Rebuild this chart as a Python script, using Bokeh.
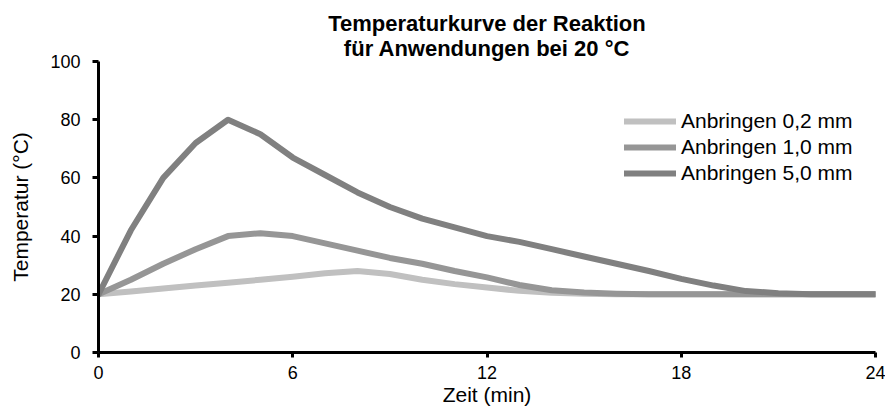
from bokeh.plotting import figure
from bokeh.models import Range1d, FixedTicker, Legend, LegendItem, Title
from bokeh.embed import file_html
from bokeh.resources import INLINE

# ---- data ----
time_min = list(range(25))
t_02 = [20, 21, 22, 23, 24, 25, 26, 27.2, 28, 27, 25, 23.5, 22.3, 21.2, 20.5, 20.2,
        20, 20, 20, 20, 20, 20, 20, 20, 20]
t_10 = [20, 25, 30.5, 35.5, 40, 41, 40, 37.5, 35, 32.5, 30.5, 28, 25.8, 23.2, 21.4,
        20.6, 20.2, 20, 20, 20, 20, 20, 20, 20, 20]
t_50 = [20, 42, 60, 72, 80, 75, 67, 61, 55, 50, 46, 43, 40, 38, 35.5, 33, 30.5,
        28, 25.3, 23, 21.1, 20.4, 20, 20, 20]
series_labels = ["Anbringen 0,2 mm", "Anbringen 1,0 mm", "Anbringen 5,0 mm"]
series_colors = ["#c0c0c0", "#969696", "#808080"]
x_ticks = [0, 6, 12, 18, 24]
y_ticks = [0, 20, 40, 60, 80, 100]
title_lines = ["Temperaturkurve der Reaktion", "für Anwendungen bei 20 °C"]

FONT = "Liberation Sans"

p = figure(width=885, height=410, output_backend="svg", toolbar_location=None,
           x_range=Range1d(0, 24), y_range=Range1d(0, 100),
           min_border_left=98, min_border_right=10, min_border_top=61,
           min_border_bottom=58, title=None)
p.outline_line_color = None
p.xgrid.visible = False
p.ygrid.visible = False
p.background_fill_color = "white"
p.border_fill_color = "white"

renderers = []
for ys, col in zip([t_02, t_10, t_50], series_colors):
    r = p.line(time_min, ys, line_color=col, line_width=6,
               line_cap="round", line_join="round")
    renderers.append(r)

for ax in (p.xaxis[0], p.yaxis[0]):
    ax.axis_line_width = 3
    ax.axis_line_color = "black"
    ax.major_tick_line_width = 3
    ax.major_tick_line_color = "black"
    ax.major_tick_in = 0
    ax.major_tick_out = 6
    ax.minor_tick_line_color = None
    ax.major_label_text_font = FONT
    ax.major_label_text_font_size = "18px"
    ax.major_label_text_color = "black"
    ax.axis_label_text_font = FONT
    ax.axis_label_text_font_size = "21px"
    ax.axis_label_text_font_style = "normal"
    ax.axis_label_text_color = "black"

p.xaxis.ticker = FixedTicker(ticks=x_ticks)
p.yaxis.ticker = FixedTicker(ticks=y_ticks)
p.xaxis.axis_label = "Zeit (min)"
p.yaxis.axis_label = "Temperatur (°C)"
p.xaxis.major_tick_out = 5
p.xaxis.major_label_standoff = 8
p.xaxis.axis_label_standoff = 1
p.yaxis.major_label_standoff = 12
p.yaxis.axis_label_standoff = 15

legend = Legend(items=[LegendItem(label=lab, renderers=[r])
                       for lab, r in zip(series_labels, renderers)],
                location=(526, 167), padding=0, spacing=2,
                glyph_width=52, glyph_height=20, label_standoff=5,
                label_text_font=FONT, label_text_font_size="21px",
                label_text_color="black",
                border_line_alpha=0, background_fill_alpha=0)
p.add_layout(legend, "center")

# second line sits next to the frame, first line above it
for line, so in zip(reversed(title_lines), [1, -4]):
    p.add_layout(Title(text=line, align="center", text_font=FONT,
                       text_font_size="22px", text_font_style="bold",
                       text_color="black", standoff=so), "above")

open("out.html", "w").write(file_html(p, INLINE))
